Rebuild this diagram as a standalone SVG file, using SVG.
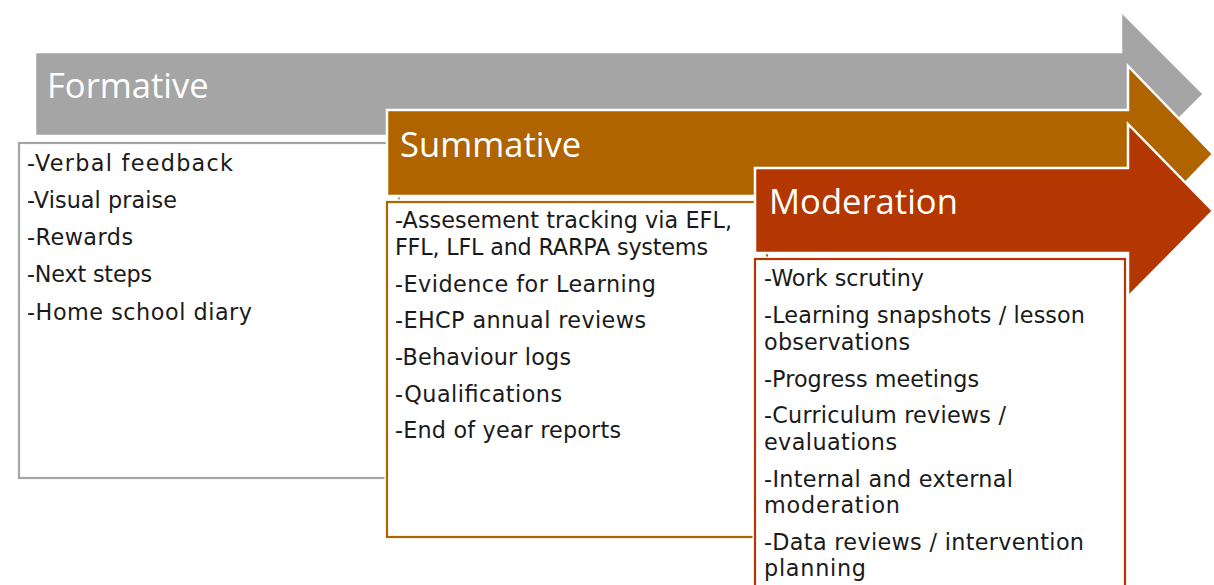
<svg xmlns="http://www.w3.org/2000/svg" width="1214" height="585" viewBox="0 0 1214 585">
<style>
.hdr{font-family:"Open Sans","Noto Sans",sans-serif;font-size:34.6px;fill:#fff}
.item{font-family:"DejaVu Sans",sans-serif;font-size:22.3px;fill:#1a1a1a}
.arrow{stroke:#fff;stroke-width:2.5;stroke-linejoin:miter}
.box{fill:#fff;stroke-width:2.2}
.halo{fill:none;stroke:#fff;stroke-width:5}
</style>
<rect width="1214" height="585" fill="#fff"/>
<g id="formative">
<path class="arrow" fill="#A5A5A5" d="M35,52 H1121 V11 L1204,94 L1121,177 V136 H35 Z"/>
<text class="hdr" x="47" y="98">Formative</text>
<rect class="halo" x="19" y="143" width="380" height="335"/>
<rect class="box" stroke="#A5A5A5" x="19" y="143" width="380" height="335"/>
<text class="item" x="27" y="171" textLength="206">-Verbal feedback</text>
<text class="item" x="27" y="208" textLength="150">-Visual praise</text>
<text class="item" x="27" y="245" textLength="106">-Rewards</text>
<text class="item" x="27" y="282" textLength="125">-Next steps</text>
<text class="item" x="27" y="320" textLength="225">-Home school diary</text>
</g>
<g id="summative">
<path class="arrow" fill="#AF6400" d="M387,110 H1128 V66 L1213,154 L1128,242 V196 H387 Z"/>
<text class="hdr" x="400" y="157">Summative</text>
<rect class="halo" x="387" y="202" width="380" height="335"/>
<rect class="box" stroke="#AF6400" x="387" y="202" width="380" height="335"/>
<text class="item" x="395" y="228" textLength="337">-Assesement tracking via EFL,</text>
<text class="item" x="395" y="255" textLength="313">FFL, LFL and RARPA systems</text>
<text class="item" x="395" y="292" textLength="261">-Evidence for Learning</text>
<text class="item" x="395" y="328" textLength="251">-EHCP annual reviews</text>
<text class="item" x="395" y="365" textLength="176">-Behaviour logs</text>
<text class="item" x="395" y="402" textLength="167">-Qualifications</text>
<text class="item" x="395" y="438" textLength="226">-End of year reports</text>
</g>
<g id="moderation">
<path class="arrow" fill="#B43600" d="M755,168 H1128 V124 L1213,211 L1128,297 V253 H755 Z"/>
<text class="hdr" x="769" y="214">Moderation</text>
<rect class="halo" x="755" y="259" width="370" height="340"/>
<rect class="box" stroke="#B43600" x="755" y="259" width="370" height="340"/>
<text class="item" x="764" y="286" textLength="160">-Work scrutiny</text>
<text class="item" x="764" y="323" textLength="321">-Learning snapshots / lesson</text>
<text class="item" x="764" y="350" textLength="146">observations</text>
<text class="item" x="764" y="387" textLength="215">-Progress meetings</text>
<text class="item" x="764" y="423" textLength="242">-Curriculum reviews /</text>
<text class="item" x="764" y="450" textLength="133">evaluations</text>
<text class="item" x="764" y="487" textLength="249">-Internal and external</text>
<text class="item" x="764" y="513" textLength="136">moderation</text>
<text class="item" x="764" y="550" textLength="320">-Data reviews / intervention</text>
<text class="item" x="764" y="576" textLength="102">planning</text>
</g>
<g id="connectors"></g>
</svg>
